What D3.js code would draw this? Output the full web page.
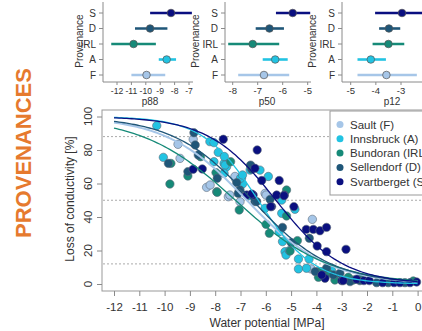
<!DOCTYPE html>
<html><head><meta charset="utf-8">
<script src="https://cdn.jsdelivr.net/npm/d3@7"></script>
<style>body{margin:0;background:#fff}svg{display:block}text{font-family:"Liberation Sans",Arial,sans-serif}</style>
</head><body><svg id="c" width="422" height="331"></svg>
<script>
// ---- data ----
const provs = ["S","D","IRL","A","F"];
const groups = ["F","A","IRL","D","S"];
const names = ["Sault (F)","Innsbruck (A)","Bundoran (IRL)","Sellendorf (D)","Svartberget (S)"];
const colors = {F:"#a6c6e8",A:"#22c3e2",IRL:"#168a78",D:"#1f5678",S:"#0a0f80"};
const p88 = [-8.25,-9.7,-10.85,-8.55,-9.95];
const p88lo = [-9.7,-10.75,-12.4,-9.1,-11.0];
const p88hi = [-6.8,-8.5,-9.3,-7.9,-8.65];
const p50 = [-5.6,-6.53,-7.2,-6.3,-6.75];
const p50lo = [-6.27,-7.08,-8.18,-6.8,-7.78];
const p50hi = [-4.9,-5.95,-6.14,-5.8,-5.74];
const p12 = [-2.96,-3.48,-3.5,-4.2,-3.58];
const p12lo = [-4.03,-3.87,-4.13,-4.73,-4.73];
const p12hi = [-1.9,-3.03,-2.87,-3.6,-2.37];
const ticks88 = [-12,-11,-10,-9,-8,-7];
const ticks50 = [-8,-7,-6,-5];
const ticks12 = [-5,-4,-3];
const xTicks = [-12,-11,-10,-9,-8,-7,-6,-5,-4,-3,-2,-1,0];
const yTicks = [0,20,40,60,80,100];
const refLines = [88,50,12];
const ptsF = [[-9.39,75],[-9.47,83.4],[-8.87,86.4],[-8.34,57.7],[-8.2,59.1],[-7.48,52.1],[-7.19,62.7],[-7.02,49.1],[-7.22,64.2],[-7.42,53.1],[-6.03,54.1],[-5.99,53.1],[-4.16,38.6],[-4.21,9]];
const ptsA = [[-10.31,94.5],[-10.05,75.6],[-8.21,85],[-8.05,84.4],[-7.88,78.6],[-8.05,73],[-7.65,72],[-7.55,70],[-6.96,63.1],[-6.92,59.7],[-6.62,68],[-7.64,76.1],[-7.61,71],[-7.65,66.1],[-7.0,63.1],[-6.92,65.1],[-6.65,52.7],[-5.9,64.2],[-6.23,68],[-5.37,50.1],[-6.03,45.2],[-4.85,44.6],[-5.37,42.2],[-5.47,31.2],[-5.34,25.3],[-5.24,19.3],[-5.2,17.3],[-5.07,19.9],[-4.71,14.9],[-4.29,14.9],[-4.71,9],[-4.39,9.4],[-3.73,7.4],[-3.4,8]];
const ptsIRL = [[-9.75,72],[-9.79,59.7],[-9.08,64.5],[-8.58,76],[-7.94,55.1],[-7.97,66.5],[-7.39,73],[-7.05,44.2],[-6.6,70.4],[-7.92,54.7],[-5.18,56.1],[-5.18,40.6],[-5.99,35.6],[-5.86,30.3],[-5.04,19.7],[-4.75,25.9],[-3.93,7.4],[-3.92,4],[-3.53,6.4],[-3.27,2.4],[-2.74,4],[-2.54,2.4],[-2.28,3.4],[-0.17,1.8],[-3.86,7.4]];
const ptsD = [[-9.85,72],[-9.08,67.1],[-8.84,90.3],[-8.79,83],[-8.67,77],[-7.92,63.1],[-7.02,56.1],[-6.56,68.5],[-7.15,60.5],[-7.05,55.7],[-7.09,54.1],[-6.43,49.2],[-5.83,50.5],[-5.34,33.8],[-5.0,24.7],[-4.28,27.3],[-4.05,7.4],[-3.6,9.4],[-3.33,5.4],[-3.07,6.4],[-2.67,1.4],[-2.28,2],[-1.62,0.8],[-1.16,0.8],[-0.5,0.8],[-6.36,49.2],[-6.6,71]];
const ptsS = [[-8.87,68.5],[-8.51,68.7],[-7.68,86.4],[-6.34,80],[-6.43,69.1],[-6.16,61.8],[-5.47,61.8],[-5.27,53.1],[-5.77,46.2],[-4.89,46.2],[-6.5,53.1],[-6.75,53.1],[-6.56,53.7],[-5.81,46.2],[-5.57,53.1],[-5.28,52.7],[-4.4,32.6],[-4.12,32.6],[-3.86,31.8],[-3.6,33.8],[-2.83,20.7],[-3.97,22.7],[-3.6,19.3],[-3.66,3.4],[-3.79,5.4],[-3.0,2],[-2.41,2.8],[-2.12,2],[-1.91,2],[-1.38,0.8],[-0.93,0.8],[-0.7,0.8],[-0.3,0.8],[-0.04,1.2],[-2.94,2]];
const points = {F:ptsF,A:ptsA,IRL:ptsIRL,D:ptsD,S:ptsS};

// ---- drawing ----
const svg = d3.select("#c");
svg.append("rect").attr("width",422).attr("height",331).attr("fill","#fff");
const axisCol = "#8a8a8a", txtCol = "#333";

// title
svg.append("text").attr("transform","translate(31,153) rotate(-90)").attr("text-anchor","middle")
  .attr("font-size",22).attr("font-weight","bold").attr("fill","#e67a2e").text("PROVENANCES");

// top panels
const yRow = d3.scalePoint().domain(provs).range([13,75]);
const panels = [
  {lo:p88lo,hi:p88hi,pt:p88,ticks:ticks88,dom:[-12,-7],rng:[117,189],left:103,right:193,lab:"p88",labX:150,ylabX:83,fs:8.6},
  {lo:p50lo,hi:p50hi,pt:p50,ticks:ticks50,dom:[-8,-5],rng:[232.7,307.7],left:225,right:311,lab:"p50",labX:267,ylabX:199,fs:9.5},
  {lo:p12lo,hi:p12hi,pt:p12,ticks:ticks12,dom:[-5,-3],rng:[350.7,401],left:342,right:430,lab:"p12",labX:392,ylabX:316,fs:9.5}
];
panels.forEach(P=>{
  const sx = d3.scaleLinear().domain(P.dom).range(P.rng);
  const g = svg.append("g");
  g.append("line").attr("x1",P.left).attr("x2",P.left).attr("y1",2).attr("y2",82).attr("stroke",axisCol);
  g.append("line").attr("x1",P.left).attr("x2",P.right).attr("y1",82).attr("y2",82).attr("stroke",axisCol);
  provs.forEach(p=>{
    g.append("line").attr("x1",P.left-4).attr("x2",P.left).attr("y1",yRow(p)).attr("y2",yRow(p)).attr("stroke",axisCol);
    g.append("text").attr("x",P.left-7).attr("y",yRow(p)+3.5).attr("text-anchor","end").attr("font-size",10).attr("fill",txtCol).text(p);
  });
  P.ticks.forEach(t=>{
    g.append("line").attr("x1",sx(t)).attr("x2",sx(t)).attr("y1",82).attr("y2",85).attr("stroke",axisCol);
    g.append("text").attr("x",sx(t)).attr("y",93.5).attr("text-anchor","middle").attr("font-size",P.fs).attr("fill",txtCol).text(t);
  });
  g.append("text").attr("x",P.labX).attr("y",105).attr("text-anchor","middle").attr("font-size",10).attr("fill",txtCol).text(P.lab);
  g.append("text").attr("transform",`translate(${P.ylabX},41) rotate(-90)`).attr("text-anchor","middle").attr("font-size",10).attr("fill",txtCol).text("Provenance");
  provs.forEach((p,i)=>{
    g.append("line").attr("x1",sx(P.lo[i])).attr("x2",sx(P.hi[i])).attr("y1",yRow(p)).attr("y2",yRow(p)).attr("stroke",colors[p]).attr("stroke-width",2.6);
    g.append("circle").attr("cx",sx(P.pt[i])).attr("cy",yRow(p)).attr("r",3.8).attr("fill",colors[p]).attr("stroke","#555").attr("stroke-width",0.7);
  });
});

// main plot
const x = d3.scaleLinear().domain([-12,0]).range([114,417.6]);
const y = d3.scaleLinear().domain([0,100]).range([284,116.5]);
const m = svg.append("g");
m.append("rect").attr("x",102).attr("y",110).attr("width",330).attr("height",181).attr("fill","none").attr("stroke","#999");
refLines.forEach(v=>{
  m.append("line").attr("x1",103).attr("x2",422).attr("y1",y(v)).attr("y2",y(v)).attr("stroke","#aaa").attr("stroke-dasharray","2,2");
});
const xa = m.append("g").attr("transform","translate(0,291)")
  .call(d3.axisBottom(x).tickValues(xTicks).tickSize(5).tickSizeOuter(0).tickFormat(d=>d));
xa.select(".domain").remove();
xa.selectAll("line").attr("stroke",axisCol);
xa.selectAll("text").attr("font-size",11.5).attr("fill",txtCol).attr("y",9).attr("dy","0.95em").attr("font-family","Liberation Sans, Arial, sans-serif");
const ya = m.append("g").attr("transform","translate(102,0)")
  .call(d3.axisLeft(y).tickValues(yTicks).tickSize(5).tickSizeOuter(0).tickFormat(""));
ya.select(".domain").remove();
ya.selectAll("line").attr("stroke",axisCol);
yTicks.forEach(v=>{
  m.append("text").attr("transform",`translate(92,${y(v)}) rotate(-90)`).attr("text-anchor","middle")
    .attr("font-size",11.5).attr("fill",txtCol).text(v);
});
m.append("text").attr("x",267).attr("y",327).attr("text-anchor","middle").attr("font-size",12).attr("fill",txtCol).text("Water potential [MPa]");
m.append("text").attr("transform","translate(74,199) rotate(-90)").attr("text-anchor","middle").attr("font-size",12).attr("fill",txtCol).text("Loss of conductivity [%]");

// points
groups.forEach(gk=>{
  m.append("g").selectAll("circle").data(points[gk]).join("circle")
    .attr("cx",d=>x(d[0])).attr("cy",d=>y(d[1])).attr("r",4.2)
    .attr("fill",colors[gk]).attr("stroke","#5a6a78").attr("stroke-width",0.6);
});
// fitted curves (logistic through p88/p50/p12)
const grid = d3.range(-12,0.001,0.1);
groups.forEach(gk=>{
  const i = provs.indexOf(gk);
  const a = 2*Math.log(88/12)/(p12[i]-p88[i]);
  const line = d3.line().x(v=>x(v)).y(v=>y(100/(1+Math.exp(a*(v-p50[i])))));
  m.append("path").attr("d",line(grid)).attr("fill","none").attr("stroke",colors[gk]).attr("stroke-width",gk==="F"?2:1.3);
});

// legend
const lg = m.append("g");
lg.append("rect").attr("x",330).attr("y",111).attr("width",100).attr("height",84).attr("fill","#fff").attr("stroke","#999");
groups.forEach((gk,i)=>{
  const yy = 124.5 + i*14.3;
  lg.append("circle").attr("cx",340).attr("cy",yy).attr("r",3.5).attr("fill",colors[gk]);
  lg.append("text").attr("x",350).attr("y",yy+4).attr("font-size",11.5).attr("fill",txtCol).text(names[i]);
});
</script></body></html>
